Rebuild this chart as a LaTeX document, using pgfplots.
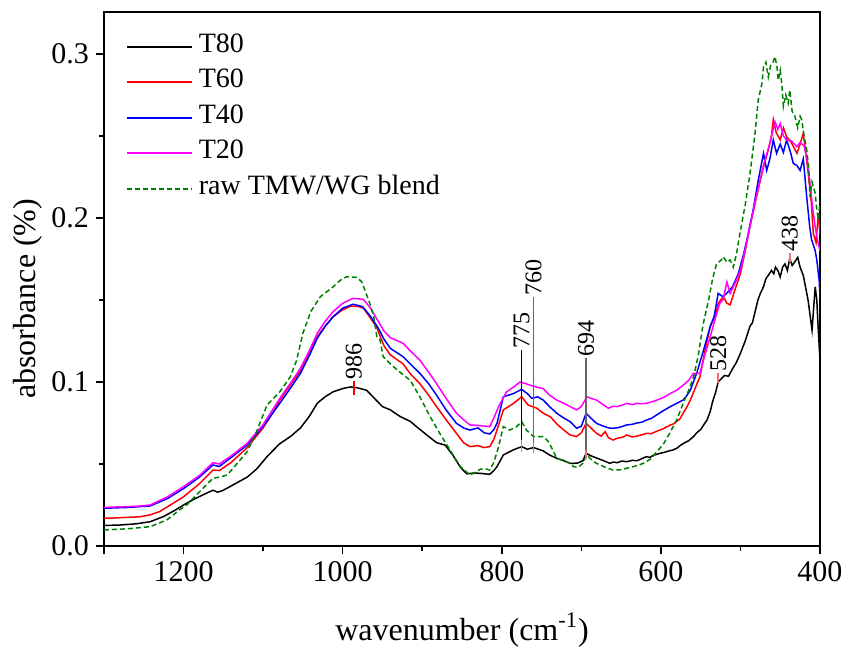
\documentclass[border=0pt]{standalone}
\usepackage{pgfplots}
\pgfplotsset{compat=1.18}
\usepackage{fontspec}
\setmainfont{Liberation Serif}
\definecolor{dgreen}{RGB}{0,128,0}
\definecolor{lred}{RGB}{240,110,110}
\definecolor{cred}{RGB}{255,0,0}
\definecolor{cblue}{RGB}{0,0,255}
\definecolor{cmag}{RGB}{255,0,255}
\begin{document}
\begin{tikzpicture}
\begin{axis}[
  scale only axis, width=358pt, height=267pt,
  x dir=reverse, xmin=400, xmax=1300, ymin=0, ymax=0.3256,
  axis line style={line width=0.9pt},
  xtick={1300,1200,1000,800,600,400}, xticklabels={,1200,1000,800,600,400},
  ytick={0,0.1,0.2,0.3}, yticklabels={0.0,0.1,0.2,0.3},
  minor xtick={1100,900,700,500}, minor ytick={0.05,0.15,0.25},
  xtick pos=bottom, ytick pos=left, tick align=outside,
  major tick length=4pt, minor tick length=2.5pt,
  every tick/.style={line width=0.8pt, black},
  tick label style={font=\fontsize{15}{18}\selectfont},
  xlabel={wavenumber (cm\textsuperscript{-1})},
  ylabel={absorbance (\%)},
  label style={font=\fontsize{16}{19}\selectfont},
  x label style={at={(axis description cs:0.5,-0.157)}, anchor=center},
  y label style={at={(axis description cs:-0.106,0.463)}, anchor=center},
  clip=true,
]
\addplot[color=black, line width=0.75pt] coordinates {
(1300,0.0125)(1280,0.0128)(1260,0.0135)(1242,0.0148)(1225,0.018)(1210,0.022)(1200,0.025)(1185,0.029)(1172,0.032)(1163,0.034)(1157,0.0328)(1150,0.034)(1135,0.038)(1120,0.042)(1108,0.047)(1095,0.0545)(1080,0.062)(1065,0.067)(1053,0.072)(1042,0.079)(1032,0.087)(1022,0.091)(1012,0.094)(1000,0.096)(990,0.097)(982,0.0965)(970,0.095)(960,0.090)(950,0.085)(940,0.083)(928,0.079)(915,0.076)(907,0.0727)(895,0.068)(882,0.063)(871,0.0615)(861,0.055)(852,0.048)(844,0.044)(835,0.0445)(827,0.0443)(815,0.0437)(810,0.046)(806,0.0484)(798,0.0555)(786,0.0585)(775,0.0606)(768,0.059)(760,0.060)(748,0.058)(740,0.0555)(731,0.0535)(722,0.052)(714,0.0504)(705,0.0505)(698,0.052)(694,0.0565)(688,0.055)(680,0.0535)(672,0.052)(664,0.0504)(660,0.0512)(655,0.0508)(649,0.0518)(643,0.0514)(636,0.0522)(630,0.052)(624,0.0532)(618,0.0545)(614,0.0540)(610,0.0552)(601,0.0565)(595,0.0572)(590,0.058)(585,0.0585)(580,0.0596)(575,0.0615)(570,0.063)(565,0.0642)(559,0.0667)(555,0.069)(550,0.071)(546,0.074)(542,0.0768)(538,0.082)(535,0.088)(531,0.094)(528,0.100)(524,0.102)(520,0.104)(515,0.1035)(510,0.108)(505,0.112)(500,0.1175)(494,0.125)(488,0.134)(485,0.136)(482,0.142)(478,0.150)(475,0.154)(471,0.158)(468,0.163)(465,0.165)(461,0.168)(458,0.166)(456,0.170)(453,0.168)(450,0.164)(447,0.170)(444,0.172)(441,0.168)(438,0.1754)(435,0.171)(432,0.173)(428,0.176)(425,0.170)(421,0.165)(419,0.160)(415,0.150)(410,0.1317)(406,0.158)(404,0.150)(402.6,0.136)(400,0.113)
};
\addplot[color=cred, line width=0.75pt] coordinates {
(1300,0.0169)(1285,0.0171)(1270,0.0175)(1255,0.0178)(1242,0.019)(1230,0.021)(1220,0.024)(1200,0.030)(1180,0.038)(1163,0.0463)(1155,0.046)(1140,0.051)(1120,0.060)(1100,0.072)(1088,0.081)(1079,0.089)(1066,0.098)(1053,0.107)(1042,0.118)(1032,0.1276)(1022,0.134)(1012,0.1398)(1000,0.144)(990,0.1463)(980,0.146)(974,0.145)(965,0.139)(957,0.133)(948,0.122)(940,0.1165)(924,0.111)(915,0.105)(903,0.099)(892,0.092)(882,0.085)(870,0.077)(857,0.0687)(848,0.063)(840,0.0606)(830,0.0612)(822,0.060)(815,0.0606)(810,0.065)(806,0.0707)(798,0.083)(785,0.087)(775,0.091)(767,0.086)(756,0.084)(748,0.081)(739,0.0788)(730,0.074)(722,0.0707)(714,0.0677)(706,0.0667)(700,0.069)(694,0.0748)(688,0.072)(681,0.0687)(675,0.067)(670,0.0697)(666,0.066)(660,0.0646)(656,0.0655)(652,0.066)(647,0.0665)(643,0.0677)(636,0.0665)(630,0.067)(624,0.0678)(618,0.0687)(612,0.0685)(605,0.070)(597,0.0715)(588,0.0738)(584,0.0745)(580,0.076)(576,0.0775)(572,0.081)(567,0.085)(562,0.090)(555,0.0985)(551,0.103)(545,0.118)(538,0.134)(534,0.138)(530,0.143)(528,0.148)(521.6,0.152)(517,0.148)(513,0.147)(507,0.156)(500,0.166)(494,0.180)(488,0.195)(482,0.208)(475,0.223)(470,0.233)(465,0.2415)(461,0.250)(458.7,0.260)(455,0.252)(450,0.2476)(446,0.255)(442,0.2496)(436,0.246)(429,0.2394)(425,0.245)(421,0.2516)(418,0.240)(414.7,0.227)(411,0.210)(408.4,0.1907)(405,0.185)(402,0.203)(400,0.19)
};
\addplot[color=cblue, line width=0.75pt] coordinates {
(1300,0.023)(1270,0.0235)(1242,0.0244)(1220,0.029)(1200,0.035)(1180,0.042)(1163,0.0494)(1155,0.0485)(1140,0.054)(1120,0.0616)(1100,0.073)(1079,0.087)(1066,0.096)(1053,0.1053)(1042,0.116)(1032,0.1266)(1022,0.134)(1012,0.1398)(1000,0.145)(987,0.1474)(975,0.146)(965,0.140)(955,0.1327)(948,0.126)(940,0.1205)(924,0.1154)(915,0.111)(903,0.1053)(892,0.099)(882,0.092)(870,0.083)(857,0.0748)(848,0.072)(840,0.0707)(830,0.072)(822,0.069)(815,0.0683)(810,0.071)(806,0.0748)(798,0.091)(785,0.093)(775,0.0955)(768,0.093)(762,0.090)(755,0.091)(748,0.089)(740,0.085)(731,0.081)(722,0.078)(714,0.0758)(706,0.0718)(700,0.073)(694,0.081)(688,0.078)(681,0.0748)(672,0.073)(664,0.0718)(655,0.072)(649,0.0728)(643,0.0738)(636,0.0742)(630,0.075)(624,0.0755)(618,0.0768)(612,0.0778)(605,0.080)(597,0.0825)(588,0.085)(580,0.087)(572,0.089)(567,0.092)(563,0.095)(555,0.1053)(546,0.120)(538,0.1337)(533,0.140)(528,0.154)(522,0.152)(517.5,0.154)(510,0.158)(502.7,0.166)(496,0.178)(490,0.1907)(484,0.205)(477.6,0.223)(471,0.2394)(467,0.229)(463,0.236)(458.7,0.2476)(454.6,0.2394)(450,0.245)(446,0.240)(442,0.2476)(437,0.240)(433.6,0.2333)(429,0.232)(425,0.229)(421,0.236)(416.7,0.213)(413,0.195)(410.5,0.1866)(406,0.180)(404,0.1744)(401,0.162)(400,0.152)
};
\addplot[color=cmag, line width=0.75pt] coordinates {
(1300,0.0235)(1285,0.0238)(1270,0.024)(1255,0.0244)(1242,0.025)(1220,0.030)(1200,0.0362)(1180,0.043)(1163,0.0508)(1155,0.050)(1140,0.055)(1120,0.0626)(1100,0.074)(1079,0.090)(1066,0.099)(1053,0.1083)(1042,0.119)(1032,0.1296)(1022,0.137)(1012,0.1429)(1000,0.148)(987,0.151)(974,0.1504)(965,0.145)(955,0.1368)(948,0.131)(940,0.127)(924,0.1236)(915,0.119)(903,0.1134)(892,0.106)(882,0.099)(870,0.090)(857,0.081)(848,0.077)(840,0.0738)(830,0.0735)(815,0.0728)(810,0.078)(804,0.085)(794,0.094)(785,0.097)(777,0.100)(770,0.099)(764,0.098)(757,0.097)(748,0.096)(740,0.092)(731,0.089)(722,0.087)(714,0.085)(706,0.083)(700,0.085)(693,0.091)(688,0.090)(681,0.089)(672,0.086)(666,0.084)(660,0.0852)(655,0.085)(649,0.0858)(643,0.087)(636,0.0862)(630,0.087)(624,0.0868)(618,0.087)(612,0.0878)(605,0.089)(597,0.0905)(588,0.093)(580,0.095)(572,0.098)(565,0.101)(559,0.1053)(551,0.1053)(545,0.116)(538,0.1276)(532,0.138)(526,0.148)(522,0.150)(517,0.161)(513,0.154)(507,0.160)(500,0.168)(494,0.181)(488,0.195)(482,0.209)(475.5,0.223)(470,0.234)(463,0.2455)(456.6,0.2587)(453,0.254)(450,0.2577)(446,0.250)(442,0.2476)(436,0.247)(429,0.2435)(425,0.246)(420,0.244)(416,0.235)(412.6,0.221)(409,0.205)(406,0.1947)(403,0.186)(400,0.180)
};
\addplot[color=dgreen, line width=0.75pt, dash pattern=on 2.5pt off 1.5pt] coordinates {
(1300,0.0098)(1270,0.0105)(1242,0.0118)(1221,0.0159)(1205,0.022)(1196,0.025)(1180,0.033)(1163,0.0413)(1155,0.042)(1145,0.0433)(1135,0.049)(1120,0.0575)(1108,0.070)(1095,0.086)(1085,0.091)(1079,0.094)(1066,0.103)(1058,0.113)(1050,0.1297)(1040,0.143)(1028,0.152)(1020,0.155)(1012,0.158)(1003,0.162)(995,0.1642)(982,0.1638)(976,0.161)(972,0.156)(966,0.148)(961,0.140)(957,0.1276)(953,0.1256)(949,0.1154)(940,0.111)(928,0.106)(915,0.101)(903,0.091)(890,0.0788)(878,0.0687)(865,0.0585)(852,0.0484)(840,0.0433)(833,0.045)(827,0.0468)(820,0.047)(815,0.0463)(810,0.051)(804,0.0606)(798,0.0728)(790,0.0707)(782,0.0725)(775,0.0758)(769,0.0707)(760,0.0667)(748,0.0667)(742,0.064)(737,0.0596)(731,0.0535)(722,0.052)(714,0.0504)(710,0.0484)(704,0.048)(698,0.0504)(693,0.0555)(688,0.053)(681,0.0504)(670,0.048)(660,0.0463)(650,0.0465)(643,0.0474)(630,0.049)(622,0.0504)(613,0.053)(605,0.0575)(597,0.062)(589,0.0687)(580,0.077)(572,0.087)(565,0.095)(559,0.103)(553,0.116)(547,0.135)(540,0.150)(535,0.163)(530,0.172)(524,0.1744)(521.6,0.1764)(517,0.173)(513,0.1744)(509,0.170)(505,0.178)(500.6,0.1907)(494,0.208)(488,0.227)(482,0.250)(477.6,0.272)(473,0.282)(471,0.292)(468,0.295)(465,0.286)(462,0.293)(459,0.295)(456.6,0.2984)(454,0.292)(452.5,0.284)(450,0.290)(448,0.282)(446,0.268)(443,0.275)(440,0.270)(438,0.278)(435,0.265)(431.5,0.262)(428,0.255)(425,0.262)(423,0.26)(420,0.250)(416.7,0.2415)(414,0.230)(412.6,0.213)(410,0.222)(406,0.215)(404,0.205)(402,0.199)(400,0.21)
};
% legend
\begin{scope}[every node/.style={anchor=west, inner sep=0pt, xshift=3pt, text height=1.55ex, text depth=0.3ex, font=\fontsize{14}{17}\selectfont, text=black}]
\draw[black, line width=0.8pt] (axis description cs:0.0321,0.9345) -- (axis description cs:0.1229,0.9345) node {T80};
\draw[cred, line width=0.8pt] (axis description cs:0.0321,0.8689) -- (axis description cs:0.1229,0.8689) node {T60};
\draw[cblue, line width=0.8pt] (axis description cs:0.0321,0.8015) -- (axis description cs:0.1229,0.8015) node {T40};
\draw[cmag, line width=0.8pt] (axis description cs:0.0321,0.7360) -- (axis description cs:0.1229,0.7360) node {T20};
\draw[dgreen, line width=0.8pt, dash pattern=on 2.5pt off 1.5pt] (axis description cs:0.0321,0.6685) -- (axis description cs:0.1229,0.6685) node {raw TMW/WG blend};
\end{scope}
% annotations
\draw[red, line width=0.8pt] (axis cs:986,0.092) -- (axis cs:986,0.1005);
\node[rotate=90, anchor=west, inner sep=0.5pt, font=\fontsize{12}{14}\selectfont] at (axis cs:986,0.1005) {986};
\draw[black, line width=0.8pt] (axis cs:775,0.0606) -- (axis cs:775,0.1195);
\draw[lred, line width=0.8pt] (axis cs:775,0.0575) -- (axis cs:775,0.0646);
\node[rotate=90, anchor=west, inner sep=0.5pt, font=\fontsize{12}{14}\selectfont] at (axis cs:775,0.1195) {775};
\draw[black!60, line width=0.8pt] (axis cs:760,0.0606) -- (axis cs:760,0.152);
\draw[lred, line width=0.8pt] (axis cs:760,0.057) -- (axis cs:760,0.0625);
\node[rotate=90, anchor=west, inner sep=0.5pt, font=\fontsize{12}{14}\selectfont] at (axis cs:760,0.152) {760};
\draw[black!60, line width=0.8pt] (axis cs:694,0.0565) -- (axis cs:694,0.1144);
\draw[lred, line width=0.8pt] (axis cs:694,0.053) -- (axis cs:694,0.0585);
\node[rotate=90, anchor=west, inner sep=0.5pt, font=\fontsize{12}{14}\selectfont] at (axis cs:694,0.1144) {694};
\draw[lred, line width=0.8pt] (axis cs:528,0.0995) -- (axis cs:528,0.1053);
\node[rotate=90, anchor=west, inner sep=0.5pt, font=\fontsize{12}{14}\selectfont] at (axis cs:528,0.1053) {528};
\draw[lred, line width=0.8pt] (axis cs:438,0.1732) -- (axis cs:438,0.1787);
\node[rotate=90, anchor=west, inner sep=0.5pt, font=\fontsize{12}{14}\selectfont] at (axis cs:438,0.1787) {438};
\end{axis}
\pgfresetboundingbox
\path[use as bounding box] ([shift={(-52pt,-50pt)}]current axis.south west) rectangle ([shift={(13.5pt,6pt)}]current axis.north east);
\end{tikzpicture}
\end{document}
